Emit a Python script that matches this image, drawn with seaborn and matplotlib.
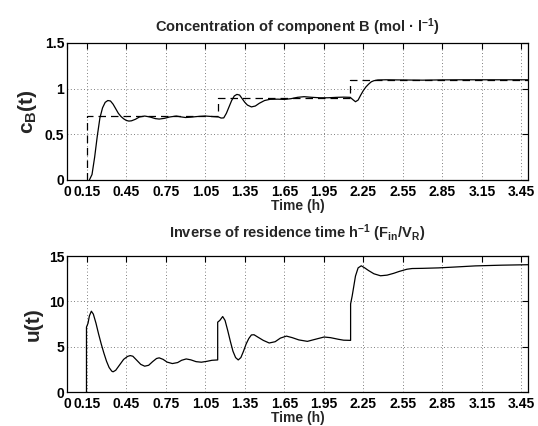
import matplotlib
matplotlib.use("Agg")
import matplotlib.pyplot as plt
import numpy as np
import pandas as pd
import seaborn as sns

# set-point of component B concentration (dashed)
sp_time = [0.15, 0.15, 1.15, 1.15, 2.15, 2.15, 3.50]
sp_conc = [0.0, 0.70, 0.70, 0.90, 0.90, 1.10, 1.10]

# measured concentration of component B (solid)
cb_time = [0.17, 0.19, 0.21, 0.23, 0.25, 0.27, 0.29, 0.31, 0.33,
           0.35, 0.37, 0.39, 0.41, 0.43, 0.45, 0.47, 0.49, 0.52, 0.55,
           0.59, 0.63, 0.67, 0.70, 0.74, 0.78, 0.83, 0.87, 0.90, 0.94,
           0.99, 1.05, 1.10, 1.15, 1.17, 1.19, 1.21, 1.23, 1.25, 1.27,
           1.29, 1.31, 1.33, 1.35, 1.37, 1.40, 1.43, 1.46, 1.50, 1.54,
           1.60, 1.65, 1.70, 1.75, 1.80, 1.86, 1.92, 1.98, 2.05, 2.10,
           2.15, 2.17, 2.19, 2.21, 2.23, 2.25, 2.27, 2.29, 2.31, 2.33,
           2.36, 2.42, 2.55, 2.70, 2.85, 3.00, 3.20, 3.50]
cb_conc = [0.0, 0.06, 0.25, 0.48, 0.68, 0.79, 0.85, 0.87, 0.865,
           0.83, 0.78, 0.73, 0.695, 0.67, 0.652, 0.645, 0.648, 0.665, 0.69,
           0.70, 0.69, 0.672, 0.667, 0.675, 0.69, 0.70, 0.69, 0.684, 0.688,
           0.695, 0.70, 0.695, 0.69, 0.678, 0.68, 0.73, 0.80, 0.87, 0.92,
           0.937, 0.93, 0.89, 0.85, 0.82, 0.80, 0.81, 0.84, 0.87, 0.883,
           0.885, 0.882, 0.89, 0.905, 0.912, 0.905, 0.90, 0.90, 0.905, 0.907,
           0.905, 0.88, 0.857, 0.875, 0.93, 0.98, 1.02, 1.05, 1.075, 1.087,
           1.095, 1.097, 1.095, 1.093, 1.096, 1.097, 1.097, 1.097]

# control input: inverse residence time
u_time = [0.148, 0.148, 0.16, 0.17, 0.185, 0.20, 0.22, 0.24, 0.26,
          0.28, 0.30, 0.32, 0.34, 0.35, 0.37, 0.39, 0.41, 0.43, 0.46,
          0.48, 0.50, 0.53, 0.56, 0.59, 0.62, 0.65, 0.68, 0.70, 0.73,
          0.76, 0.80, 0.84, 0.87, 0.905, 0.94, 0.98, 1.02, 1.06, 1.10,
          1.144, 1.144, 1.16, 1.182, 1.20, 1.22, 1.24, 1.26, 1.28, 1.30,
          1.32, 1.34, 1.36, 1.38, 1.40, 1.42, 1.45, 1.49, 1.535, 1.58,
          1.62, 1.666, 1.71, 1.76, 1.825, 1.88, 1.952, 2.00, 2.06, 2.10,
          2.153, 2.153, 2.165, 2.19, 2.21, 2.234, 2.26, 2.29, 2.33, 2.38,
          2.43, 2.48, 2.52, 2.58, 2.62, 2.70, 2.82, 2.95, 3.10, 3.30, 3.50]
u_val = [0.0, 7.16, 7.6, 8.4, 8.92, 8.6, 7.6, 6.4, 5.3,
         4.3, 3.4, 2.7, 2.3, 2.23, 2.4, 2.8, 3.2, 3.6, 3.93,
         4.02, 3.95, 3.5, 3.05, 2.85, 2.95, 3.35, 3.7, 3.77, 3.6,
         3.3, 3.14, 3.25, 3.5, 3.65, 3.55, 3.35, 3.29, 3.38, 3.5,
         3.54, 7.71, 7.9, 8.33, 7.9, 6.8, 5.6, 4.5, 3.8, 3.54,
         3.8, 4.5, 5.3, 5.9, 6.3, 6.32, 6.05, 5.7, 5.41, 5.55,
         5.95, 6.17, 6.0, 5.75, 5.59, 5.8, 6.07, 6.0, 5.82, 5.72,
         5.70, 9.72, 10.6, 12.8, 13.7, 13.93, 13.7, 13.4, 13.05, 12.83,
         12.9, 13.1, 13.3, 13.55, 13.63, 13.65, 13.7, 13.8, 13.92, 14.0, 14.05]

x_ticks = [0, 0.15, 0.45, 0.75, 1.05, 1.35, 1.65, 1.95, 2.25, 2.55, 2.85, 3.15, 3.45]
x_tick_labels = ["0", "0.15", "0.45", "0.75", "1.05", "1.35", "1.65",
                 "1.95", "2.25", "2.55", "2.85", "3.15", "3.45"]

sns.set_style("white")
plt.rcParams["font.family"] = ["Liberation Sans", "DejaVu Sans"]
plt.rcParams["font.weight"] = "bold"
plt.rcParams["mathtext.fontset"] = "custom"
plt.rcParams["mathtext.rm"] = "Liberation Sans:bold"
plt.rcParams["mathtext.it"] = "Liberation Sans:bold"
plt.rcParams["mathtext.bf"] = "Liberation Sans:bold"

fig = plt.figure(figsize=(5.38, 4.26), dpi=100)
ax1 = fig.add_axes([0.1245, 0.5775, 0.857, 0.3216])
ax2 = fig.add_axes([0.1245, 0.0798, 0.857, 0.319])

sns.lineplot(x=sp_time, y=sp_conc, ax=ax1, color="black", linewidth=0.9,
             linestyle=(0, (6, 4)), estimator=None, sort=False)
sns.lineplot(x=cb_time, y=cb_conc, ax=ax1, color="black", linewidth=0.9,
             estimator=None, sort=False)
sns.lineplot(x=u_time, y=u_val, ax=ax2, color="black", linewidth=0.9,
             estimator=None, sort=False)


def style_axis(ax, ylim, yticks, ylabel, title, title_pad):
    ax.set_xlim(0, 3.5)
    ax.set_ylim(*ylim)
    ax.set_xticks(x_ticks)
    ax.set_xticklabels(x_tick_labels)
    ax.set_yticks(yticks)
    ax.set_yticklabels([f"{v:g}" for v in yticks])
    ax.tick_params(direction="in", top=True, right=True, length=4,
                   width=0.8, labelsize=10, colors="black")
    ax.tick_params(axis="x", pad=3.5)
    ax.tick_params(axis="y", pad=2)
    ax.grid(True, color="#555555", linestyle=(0, (1, 3)), linewidth=0.6)
    for sp in ax.spines.values():
        sp.set_color("black")
        sp.set_linewidth(0.9)
    ax.set_xlabel("Time (h)", fontsize=10, fontweight="bold", labelpad=0)
    ax.set_ylabel(ylabel, fontsize=15, fontweight="bold", labelpad=4)
    ax.set_title(title, fontsize=10.5, fontweight="bold", pad=title_pad)


style_axis(ax1, (0, 1.5), [0, 0.5, 1, 1.5], r"c$_{B}$(t)",
           r"Concentration of component B (mol · l$^{-1}$)", 8)
style_axis(ax2, (0, 15), [0, 5, 10, 15], "u(t)",
           r"Inverse of residence time h$^{-1}$ (F$_{in}$/V$_{R}$)", 13)

fig.savefig("out.png", dpi=100)
